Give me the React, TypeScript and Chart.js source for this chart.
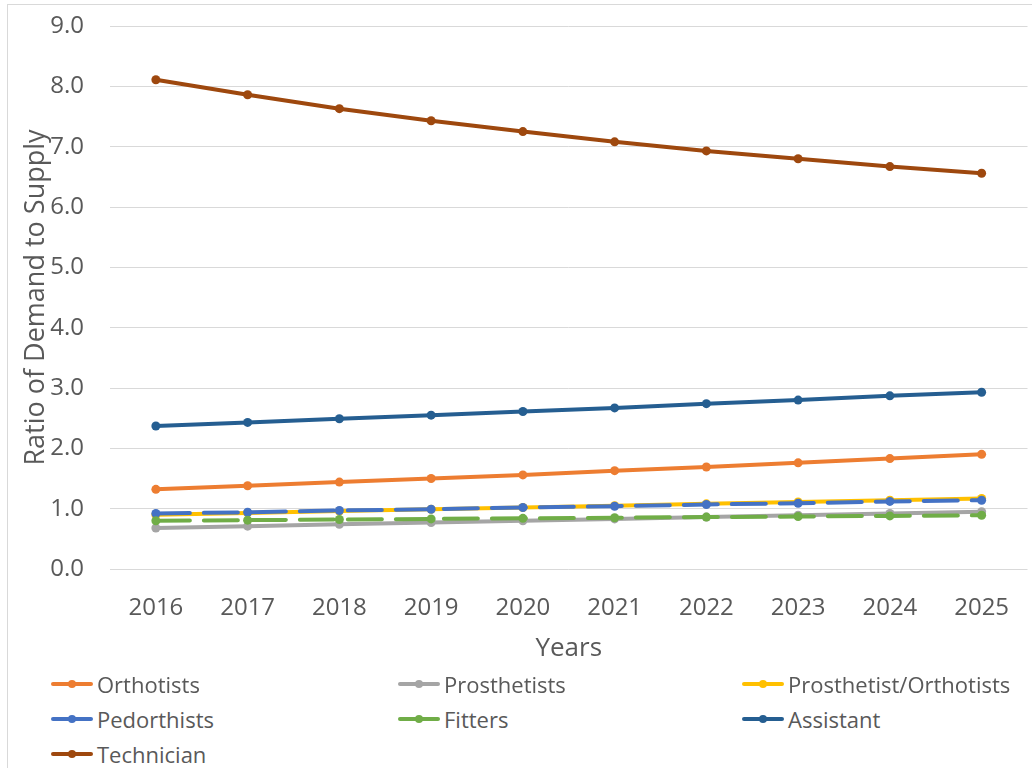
import React, { useEffect, useRef } from 'react';
import { Chart, registerables } from 'chart.js';

Chart.register(...registerables);

const FONT = '"Open Sans", sans-serif';
const TEXT = '#595959';

const years = ['2016', '2017', '2018', '2019', '2020', '2021', '2022', '2023', '2024', '2025'];

const orthotists = [1.32, 1.38, 1.44, 1.50, 1.56, 1.63, 1.69, 1.76, 1.83, 1.90];
const prosthetists = [0.68, 0.71, 0.74, 0.77, 0.80, 0.83, 0.86, 0.89, 0.92, 0.95];
const prosthetistOrthotists = [0.90, 0.93, 0.96, 0.99, 1.02, 1.05, 1.08, 1.11, 1.14, 1.17];
const pedorthists = [0.92, 0.94, 0.97, 0.99, 1.02, 1.04, 1.07, 1.09, 1.12, 1.14];
const fitters = [0.80, 0.81, 0.82, 0.83, 0.84, 0.85, 0.86, 0.87, 0.88, 0.89];
const assistant = [2.37, 2.43, 2.49, 2.55, 2.61, 2.67, 2.74, 2.80, 2.87, 2.93];
const technician = [8.11, 7.86, 7.63, 7.43, 7.25, 7.08, 6.93, 6.80, 6.67, 6.56];

const seriesNames = ['Orthotists', 'Prosthetists', 'Prosthetist/Orthotists', 'Pedorthists', 'Fitters', 'Assistant', 'Technician'];
const seriesValues = [orthotists, prosthetists, prosthetistOrthotists, pedorthists, fitters, assistant, technician];
const seriesColors = ['#ED7D31', '#A5A5A5', '#FFC000', '#4472C4', '#70AD47', '#255E91', '#9E480E'];
const seriesDashed = [false, false, false, true, true, false, false];

const yTicks = { min: 0, max: 9, step: 1 };

const legendCols = [51, 398, 742];
const legendRows = [684, 719, 754];

export default function App() {
  const ref = useRef<HTMLCanvasElement>(null);

  useEffect(() => {
    const chart = new Chart(ref.current!, {
      type: 'line',
      data: {
        labels: years,
        datasets: seriesNames.map((name, i) => ({
          label: name,
          data: seriesValues[i],
          borderColor: seriesColors[i],
          backgroundColor: seriesColors[i],
          borderWidth: 4,
          borderDash: seriesDashed[i] ? [34, 14] : [],
          borderCapStyle: 'round',
          borderJoinStyle: 'round',
          pointRadius: 4.5,
          pointHoverRadius: 4.5,
          pointBackgroundColor: seriesColors[i],
          pointBorderColor: seriesColors[i],
          pointBorderWidth: 0,
          tension: 0,
          fill: false,
          order: seriesNames.length - i,
        })),
      },
      options: {
        responsive: false,
        animation: false,
        layout: { padding: { top: 26, right: 3, left: 0, bottom: 0 } },
        plugins: { legend: { display: false }, tooltip: { enabled: false } },
        scales: {
          x: {
            offset: true,
            grid: { display: false },
            border: { display: false },
            ticks: { font: { family: FONT, size: 24 }, color: TEXT, padding: 17 },
            title: {
              display: true,
              text: 'Years',
              font: { family: FONT, size: 26 },
              color: TEXT,
              padding: { top: 0, bottom: 6 },
            },
            afterFit: (s: any) => { s.height = 101; },
          },
          y: {
            min: yTicks.min,
            max: yTicks.max,
            ticks: {
              stepSize: yTicks.step,
              callback: (v: any) => Number(v).toFixed(1),
              font: { family: FONT, size: 24 },
              color: TEXT,
              padding: 0,
            },
            grid: { color: '#d9d9d9', lineWidth: 1, drawTicks: true, tickLength: 26, tickColor: 'rgba(0,0,0,0)' },
            border: { display: false },
            title: {
              display: true,
              text: 'Ratio of Demand to Supply',
              font: { family: FONT, size: 27 },
              color: TEXT,
              padding: { top: 20, bottom: 0 },
            },
            afterFit: (s: any) => { s.width = 110; },
          },
        },
      } as any,
    });
    return () => chart.destroy();
  }, []);

  return (
    <div style={{ position: 'fixed', left: 0, top: 0, width: 1032, height: 768, overflow: 'hidden', background: '#fff' }}>
      <div style={{ position: 'absolute', left: 7, top: 4, width: 1200, height: 900, border: '1px solid #d9d9d9' }} />
      <canvas ref={ref} width={1032} height={670} style={{ position: 'absolute', left: 0, top: 0, display: 'block' }} />
      {seriesNames.map((name, i) => {
        const col = legendCols[i % 3];
        const row = legendRows[Math.floor(i / 3)];
        return (
          <div key={name} style={{ position: 'absolute', left: col, top: row - 16, height: 32, display: 'flex', alignItems: 'center', fontFamily: FONT, fontSize: 22, color: TEXT, whiteSpace: 'nowrap' }}>
            <svg width={42} height={12} style={{ marginRight: 4 }}>
              <line x1={2} y1={6} x2={40} y2={6} stroke={seriesColors[i]} strokeWidth={4} strokeLinecap="round" />
              <circle cx={21} cy={6} r={4} fill={seriesColors[i]} />
            </svg>
            <span>{name}</span>
          </div>
        );
      })}
    </div>
  );
}
